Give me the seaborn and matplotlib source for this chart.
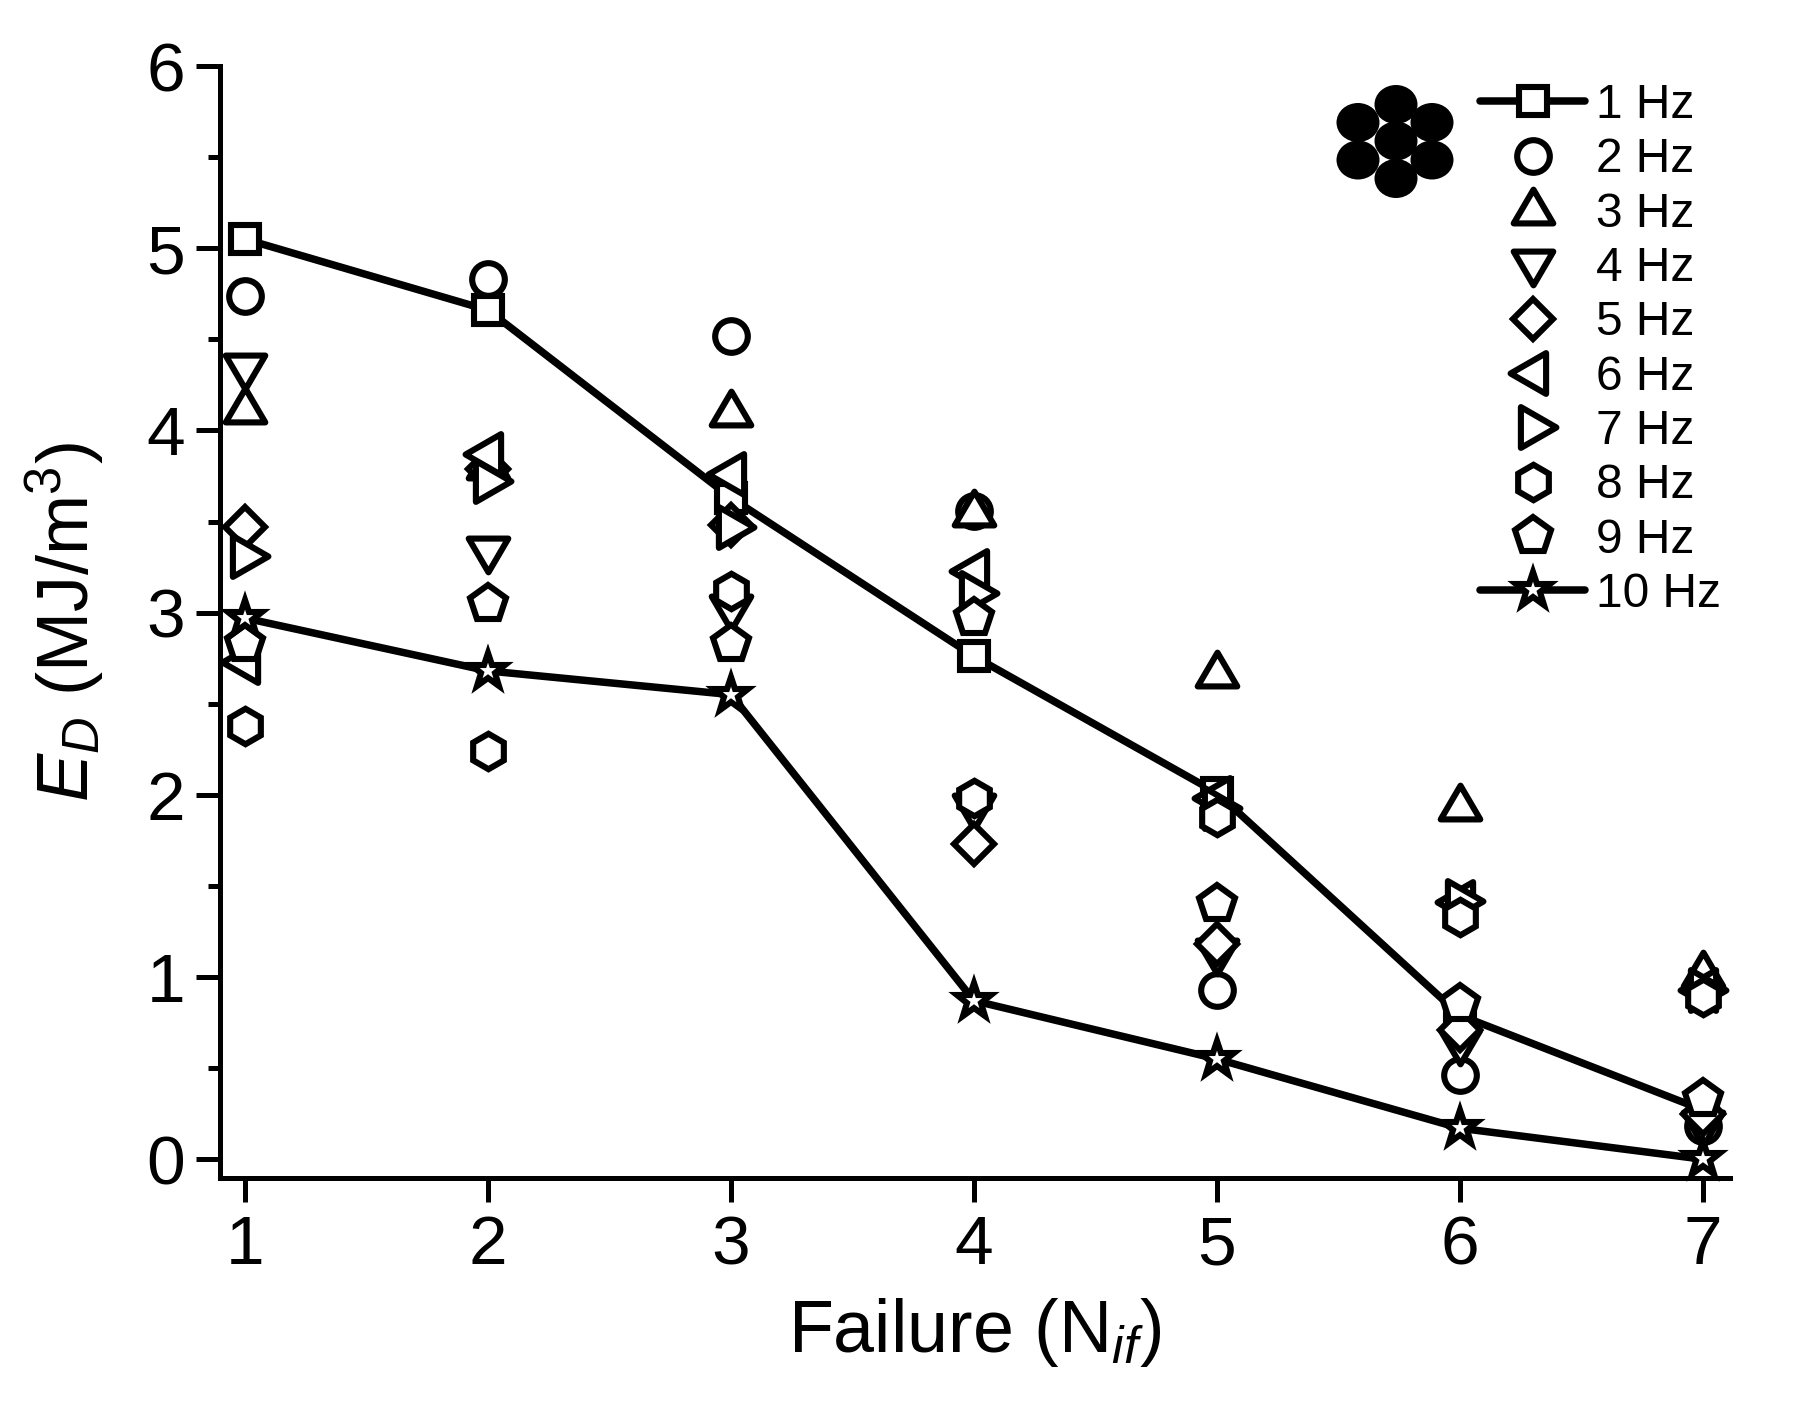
import matplotlib
matplotlib.use('Agg')
import matplotlib.pyplot as plt
from matplotlib.markers import MarkerStyle
from matplotlib.patches import Ellipse
from matplotlib.path import Path
import seaborn as sns

sns.set_theme(style='ticks')
plt.rcParams['font.family'] = ['Liberation Sans', 'DejaVu Sans']
plt.rcParams['mathtext.fontset'] = 'custom'
plt.rcParams['mathtext.rm'] = 'Liberation Sans'
plt.rcParams['mathtext.it'] = 'Liberation Sans:italic'
plt.rcParams['mathtext.default'] = 'regular'

# Data
failure = [1, 2, 3, 4, 5, 6, 7]
hz_1 = [5.05, 4.66, 3.63, 2.76, 2.01, 0.79, 0.27]
hz_2 = [4.74, 4.83, 4.52, 3.56, 0.93, 0.46, 0.18]
hz_3 = [4.12, 3.81, 4.10, 3.55, 2.67, 1.94, 1.02]
hz_4 = [4.34, 3.34, 3.02, 1.93, 1.13, 0.64, 0.19]
hz_5 = [3.47, 3.79, 3.48, 1.73, 1.18, 0.71, 0.25]
hz_6 = [2.73, 3.87, 3.76, 3.23, 1.98, 1.41, 0.93]
hz_7 = [3.31, 3.72, 3.47, 3.11, 1.93, 1.42, 0.93]
hz_8 = [2.38, 2.24, 3.12, 1.98, 1.88, 1.33, 0.89]
hz_9 = [2.83, 3.05, 2.83, 2.97, 1.40, 0.85, 0.33]
hz_10 = [2.97, 2.68, 2.55, 0.87, 0.55, 0.17, 0.00]


# Triangles in the picture are squatter than the matplotlib ones
def triangle(verts):
    return MarkerStyle(Path(verts + [verts[0]], closed=True), joinstyle='miter')


tri_up = triangle([(-0.95, -0.62), (0.95, -0.62), (0, 1)])
tri_down = triangle([(-0.95, 0.62), (0.95, 0.62), (0, -1)])
tri_left = triangle([(-1, 0), (0.55, 0.89), (0.55, -0.89)])
tri_right = triangle([(1, 0), (-0.55, 0.89), (-0.55, -0.89)])
star = MarkerStyle('*', joinstyle='miter')

series = [
    ('1 Hz', hz_1, 's', 20, True),
    ('2 Hz', hz_2, 'o', 23.5, False),
    ('3 Hz', hz_3, tri_up, 30, False),
    ('4 Hz', hz_4, tri_down, 30, False),
    ('5 Hz', hz_5, 'D', 20.5, False),
    ('6 Hz', hz_6, tri_left, 33, False),
    ('7 Hz', hz_7, tri_right, 33, False),
    ('8 Hz', hz_8, 'h', 25.5, False),
    ('9 Hz', hz_9, 'p', 27, False),
    ('10 Hz', hz_10, star, 26, True),
]

W, H = 1818, 1419
fig = plt.figure(figsize=(W / 100, H / 100), dpi=100)
ax = fig.add_axes([220 / W, 1 - 1178 / H, 1510 / W, 1112 / H])

for name, values, marker, size, joined in series:
    sns.lineplot(
        x=failure, y=values, ax=ax, color='black', linewidth=5.4,
        linestyle='-' if joined else 'none', marker=marker, markersize=size,
        markerfacecolor='white', markeredgecolor='black', markeredgewidth=4.4,
        label=name, legend=False, clip_on=False, errorbar=None
    )

# Axes
ax.set_xlim(0.897, 7.111)
ax.set_ylim(-0.103, 6)
ax.set_xticks(failure)
ax.set_yticks(range(0, 7))
ax.set_yticks([0.5, 1.5, 2.5, 3.5, 4.5, 5.5], minor=True)
ax.tick_params(axis='both', which='major', labelsize=50, length=17, width=3.6, color='black', labelcolor='black')
ax.tick_params(axis='y', which='minor', length=9, width=3.6, color='black')
ax.tick_params(axis='x', pad=9)
ax.tick_params(axis='y', pad=8)
sns.despine(ax=ax)
for side in ['left', 'bottom']:
    ax.spines[side].set_linewidth(3.6)
    ax.spines[side].set_color('black')
    ax.spines[side].set_zorder(5)
ax.grid(False)

ax.set_xlabel('Failure (N$_{\\mathit{if}}$)', fontsize=53, color='black', labelpad=13)
ax.set_ylabel('$\\mathit{E_D}$ (MJ/m$^3$)', fontsize=52, color='black', labelpad=29)

# Legend
handles, labels = ax.get_legend_handles_labels()
fig.legend(
    handles, labels, loc='upper left', bbox_to_anchor=(1480 / W, 1 - 83 / H),
    bbox_transform=fig.transFigure, frameon=False, fontsize=34.5, numpoints=1,
    handlelength=2.2, handletextpad=0.23, labelspacing=0.195, borderpad=0, borderaxespad=0,
    labelcolor='black'
)

# Wire cross section icon
wire_x = [1396, 1396, 1396, 1358, 1432, 1358, 1432]
wire_y = [141, 104.5, 178.5, 122.5, 122.5, 160, 160]
for cx, cy in zip(wire_x, wire_y):
    fig.add_artist(Ellipse((cx / W, 1 - cy / H), 43 / W, 39 / H, transform=fig.transFigure,
                           facecolor='black', edgecolor='none'))

fig.savefig('out.png', dpi=100)
